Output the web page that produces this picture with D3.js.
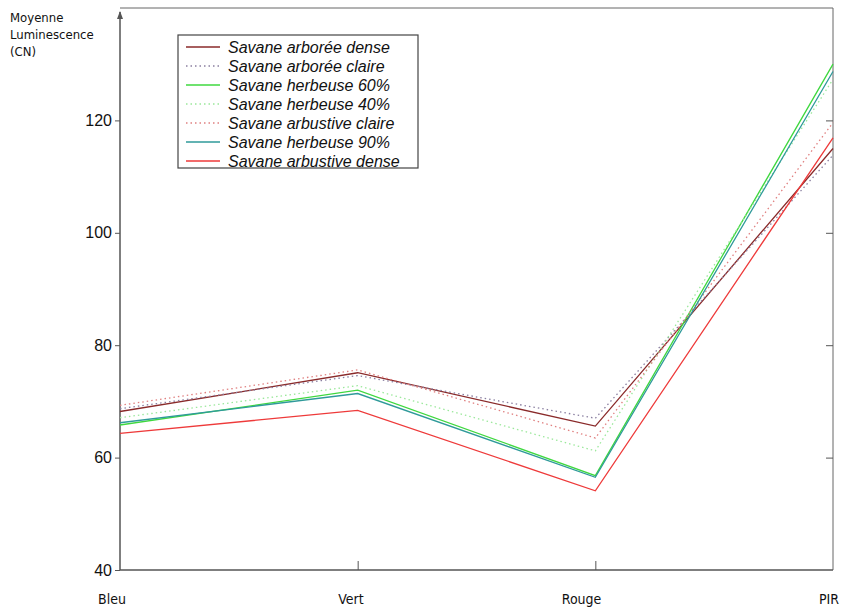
<!DOCTYPE html>
<html>
<head>
<meta charset="utf-8">
<script src="https://cdn.jsdelivr.net/npm/d3@7"></script>
<style>
	body { margin: 0; background: #fff; }
	svg { display: block; }
	.axis path, .axis line { stroke: #555; }
	.axis text { font-family: Arial, "Liberation Sans", sans-serif; font-size: 16px; fill: #111; }
</style>
</head>
<body>
<svg id="chart" width="841" height="607"></svg>
<script>
const bands = ["Bleu", "Vert", "Rouge", "PIR"]
const yTicks = [40, 60, 80, 100, 120]

const seriesNames = [
	"Savane arborée dense",
	"Savane arborée claire",
	"Savane herbeuse 60%",
	"Savane herbeuse 40%",
	"Savane arbustive claire",
	"Savane herbeuse 90%",
	"Savane arbustive dense",
]
const arboreeDense = [68.2, 75.1, 65.6, 115.0]
const arboreeClaire = [68.7, 74.6, 67.0, 113.8]
const herbeuse60 = [65.8, 72.0, 56.8, 130.0]
const herbeuse40 = [67.1, 72.8, 61.2, 127.3]
const arbustiveClaire = [69.3, 75.6, 63.5, 119.6]
const herbeuse90 = [66.2, 71.4, 56.5, 128.7]
const arbustiveDense = [64.3, 68.4, 54.1, 116.9]

const seriesValues = [arboreeDense, arboreeClaire, herbeuse60, herbeuse40, arbustiveClaire, herbeuse90, arbustiveDense]
const seriesStyles = [
	{color: "#8a2a2a", dash: null},
	{color: "#8a7fa0", dash: "1.5,3"},
	{color: "#3fd83f", dash: null},
	{color: "#9be89b", dash: "1.5,3"},
	{color: "#e08080", dash: "1.5,3"},
	{color: "#2f9a9a", dash: null},
	{color: "#ee3a3a", dash: null},
]

const svg = d3.select("#chart")
const plotL = 120, plotR = 833, plotT = 8, plotB = 570

const x = d3.scalePoint().domain(bands).range([plotL, plotR])
const y = d3.scaleLinear().domain([40, 140]).range([plotB, plotT])

// box: top and right lines
svg.append("path")
	.attr("d", `M ${plotL} ${plotT} H ${plotR} V ${plotB}`)
	.attr("fill", "none").attr("stroke", "#666").attr("stroke-width", 1)

// left axis
const yAxis = svg.append("g").attr("class", "axis")
	.attr("transform", `translate(${plotL},0)`)
	.call(d3.axisLeft(y).tickValues(yTicks).tickSize(5).tickPadding(3))
yAxis.select(".domain").remove()
svg.append("line").attr("x1", plotL).attr("x2", plotL).attr("y1", plotB).attr("y2", 12)
	.attr("stroke", "#555").attr("stroke-width", 1.5)
svg.append("path").attr("d", `M ${plotL - 3} 19 L ${plotL} 11 L ${plotL + 3} 19 Z`).attr("fill", "#555")

// right axis inner ticks
svg.append("g").attr("class", "axis")
	.attr("transform", `translate(${plotR},0)`)
	.call(d3.axisLeft(y).tickValues(yTicks.slice(1)).tickSize(7).tickFormat(""))
	.select(".domain").remove()

// bottom axis
const xAxis = svg.append("g").attr("class", "axis")
	.attr("transform", `translate(0,${plotB})`)
	.call(d3.axisTop(x).tickValues(bands.slice(1, 3)).tickSize(9).tickFormat(""))
xAxis.select(".domain").remove()
svg.append("line").attr("x1", plotL).attr("x2", plotR).attr("y1", plotB).attr("y2", plotB)
	.attr("stroke", "#555").attr("stroke-width", 1.5)

svg.append("g").selectAll("text")
	.data(bands)
	.join("text")
		.attr("x", d => x(d) + 6)
		.attr("y", 604)
		.attr("text-anchor", "end")
		.attr("font-family", "'DejaVu Sans Condensed', 'DejaVu Sans', sans-serif")
		.attr("font-size", 14)
		.attr("fill", "#111")
		.text(d => d)

// y title
svg.append("text")
	.attr("font-family", "'DejaVu Sans Condensed', 'DejaVu Sans', sans-serif")
	.attr("font-size", 13).attr("fill", "#111")
	.selectAll("tspan")
	.data(["Moyenne", "Luminescence", "(CN)"])
	.join("tspan")
		.attr("x", 10)
		.attr("y", (d, i) => 22 + i * 17)
		.text(d => d)

// series
const line = d3.line().x((d, i) => x(bands[i])).y(d => y(d))
svg.append("g").selectAll("path")
	.data(seriesValues)
	.join("path")
		.attr("d", d => line(d))
		.attr("fill", "none")
		.attr("stroke", (d, i) => seriesStyles[i].color)
		.attr("stroke-width", 1.3)
		.attr("stroke-dasharray", (d, i) => seriesStyles[i].dash)

// legend
const legend = svg.append("g").attr("transform", "translate(178,35)")
legend.append("rect").attr("width", 240).attr("height", 133)
	.attr("fill", "#fff").attr("stroke", "#444").attr("stroke-width", 1.2)
const rows = legend.selectAll("g.row")
	.data(seriesNames)
	.join("g").classed("row", true)
	.attr("transform", (d, i) => `translate(0,${12 + i * 19})`)
rows.append("line")
	.attr("x1", 8).attr("x2", 42)
	.attr("stroke", (d, i) => seriesStyles[i].color)
	.attr("stroke-width", 1.3)
	.attr("stroke-dasharray", (d, i) => seriesStyles[i].dash)
rows.append("text")
	.attr("x", 50).attr("y", 5.5)
	.attr("font-family", "Arial, 'Liberation Sans', sans-serif")
	.attr("font-style", "italic")
	.attr("font-size", 16)
	.attr("fill", "#111")
	.text(d => d)
</script>
</body>
</html>
